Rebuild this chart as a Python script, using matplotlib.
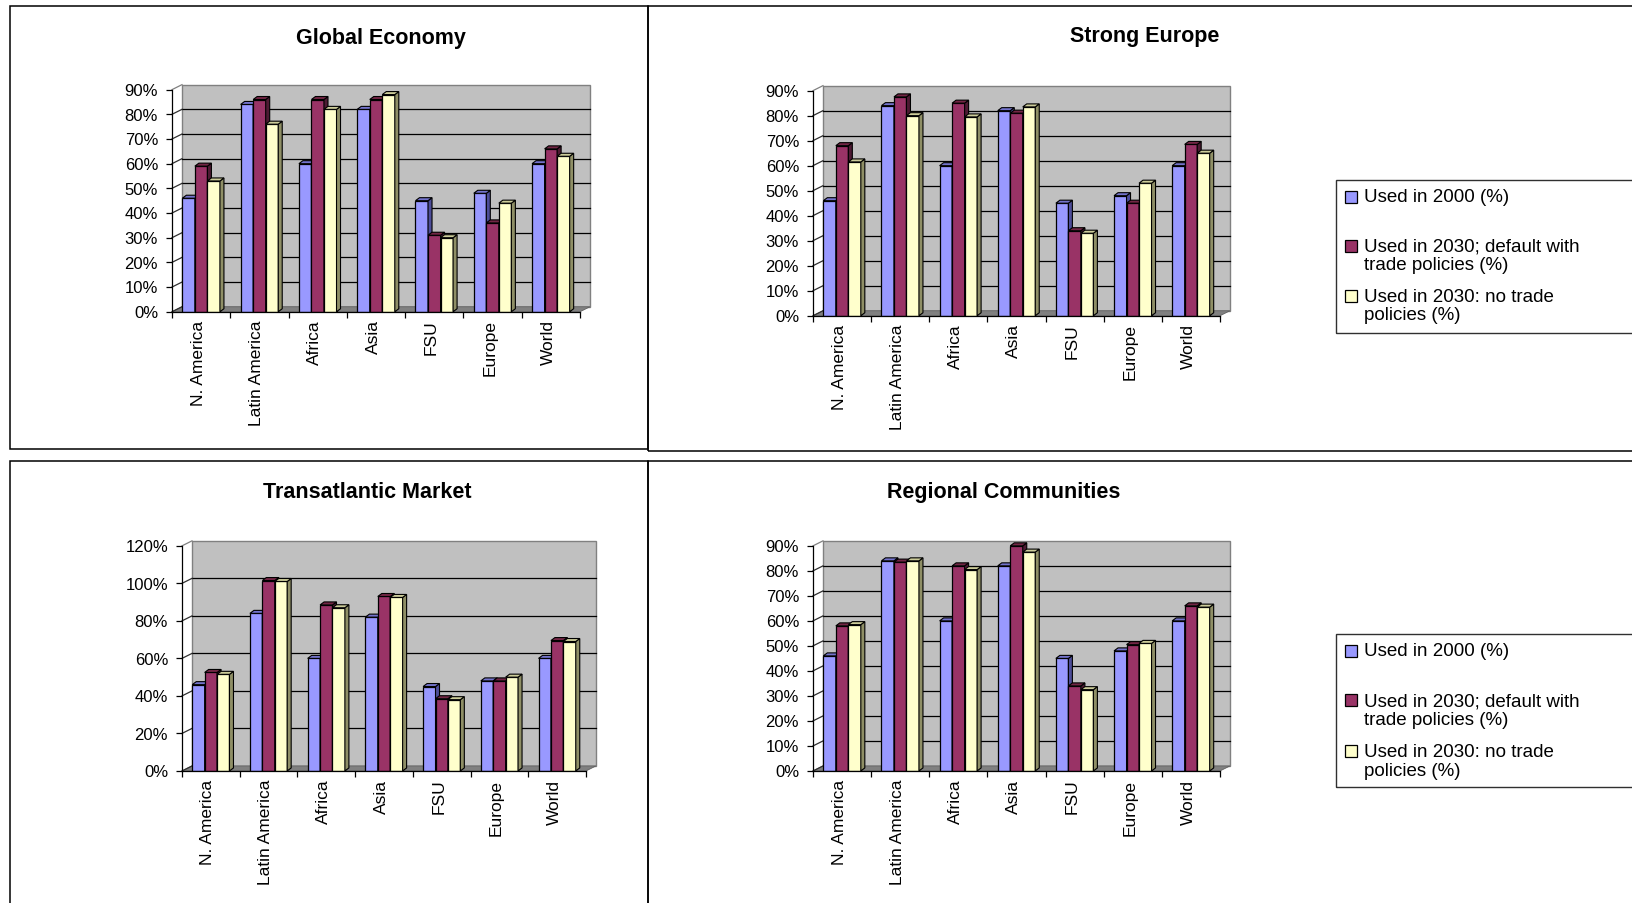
import matplotlib
matplotlib.use("Agg")
import matplotlib.pyplot as plt
from matplotlib.patches import Rectangle, Polygon
from matplotlib.lines import Line2D
from matplotlib.transforms import IdentityTransform
import numpy as np

# ---------------- data ----------------
categories = ["N. America", "Latin America", "Africa", "Asia", "FSU", "Europe", "World"]
series_labels = ["Used in 2000 (%)",
                 "Used in 2030; default with\ntrade policies (%)",
                 "Used in 2030: no trade\npolicies (%)"]

used_2000 = [46, 84, 60, 82, 45, 48, 60]

global_default = [59, 86, 86, 86, 31, 36, 66]
global_notrade = [53, 76, 82, 88, 30, 44, 63]

europe_default = [68, 87.5, 85, 81, 34, 45, 68.5]
europe_notrade = [61.5, 80, 79.5, 83.5, 33, 53, 65]

transat_default = [52.5, 101.5, 88.5, 93, 38.5, 48, 69.5]
transat_notrade = [51.5, 101, 87, 92.5, 38, 50, 69]

regional_default = [58, 83.5, 82, 90, 34, 50.5, 66]
regional_notrade = [58.5, 84, 80.5, 87.5, 32.5, 51, 65.5]

titles = ["Global Economy", "Strong Europe", "Transatlantic Market", "Regional Communities"]
yticks_90 = [0, 10, 20, 30, 40, 50, 60, 70, 80, 90]
yticks_120 = [0, 20, 40, 60, 80, 100, 120]

# ---------------- style ----------------
W, H, DPI = 1632, 903, 100
FACE = ["#9999FF", "#993366", "#FFFFCC"]
SIDE = ["#4D4D99", "#4D1A33", "#8F8F66"]
TOP = ["#7373CC", "#732645", "#CCCC99"]
WALL = "#C0C0C0"
FLOOR = "#808080"
DX, DY = 10, 5      # wall depth in pixels
BX, BY = 4, 3       # bar depth in pixels
BW = 0.215

plt.rcParams["font.family"] = ["Liberation Sans", "DejaVu Sans"]

fig = plt.figure(figsize=(W / DPI, (H + 0.4) / DPI), dpi=DPI)
fig.patch.set_facecolor("white")


def fx(px):
    return px / W


def fy(py):
    return 1 - py / H


def fig_rect(x0, y0, x1, y1, **kw):
    r = Rectangle((fx(x0), fy(y1)), fx(x1) - fx(x0), fy(y0) - fy(y1),
                  transform=fig.transFigure, **kw)
    fig.add_artist(r)
    return r


# panel frames
for (x0, y0, x1, y1) in [(10, 6, 648, 449), (648, 6, 1700, 451),
                         (10, 461, 648, 960), (648, 461, 1700, 960)]:
    fig_rect(x0, y0, x1, y1, fill=False, edgecolor="black", linewidth=1.1)


def draw_panel(front, ymax, yticks, title, title_xy, series, legend_box=None):
    x0, x1, ybot, ytop = front
    n = len(categories)
    ax = fig.add_axes([fx(x0), fy(ybot), fx(x1) - fx(x0), (ybot - ytop) / H])
    ax.set_xlim(-0.5, n - 0.5)
    ax.set_ylim(0, ymax)
    ax.patch.set_visible(False)
    for s in ["top", "right"]:
        ax.spines[s].set_visible(False)
    for s in ["left", "bottom"]:
        ax.spines[s].set_color("black")
        ax.spines[s].set_linewidth(0.9)
        ax.spines[s].set_zorder(10)

    ax.set_yticks(yticks)
    ax.set_yticklabels([f"{t}%" for t in yticks])
    ax.tick_params(axis="y", direction="out", length=4, width=0.9, pad=6,
                   labelsize=12)
    ax.set_xticks(np.arange(-0.5, n, 1.0))
    ax.set_xticklabels([])
    ax.tick_params(axis="x", which="major", direction="out", length=4, width=0.9)
    ax.set_xticks(np.arange(n) - 0.05, minor=True)
    ax.set_xticklabels(categories, minor=True, rotation=90, fontsize=12.5)
    ax.tick_params(axis="x", which="minor", length=0, pad=6)

    P = lambda x, y: ax.transData.transform((x, y))
    off = np.array([DX, DY])
    boff = np.array([BX, BY])
    idt = IdentityTransform()

    def poly(pts, **kw):
        p = Polygon(np.array(pts), closed=True, transform=idt, clip_on=False, **kw)
        ax.add_patch(p)

    # back wall
    poly([P(-0.5, 0) + off, P(n - 0.5, 0) + off, P(n - 0.5, ymax) + off, P(-0.5, ymax) + off],
         facecolor=WALL, edgecolor="#808080", linewidth=1.0, zorder=0.5)
    # floor
    poly([P(-0.5, 0), P(n - 0.5, 0), P(n - 0.5, 0) + off, P(-0.5, 0) + off],
         facecolor=FLOOR, edgecolor="#606060", linewidth=0.6, zorder=0.8)
    # gridlines on back wall and side wall diagonals
    for t in yticks:
        a, b = P(-0.5, t), P(n - 0.5, t)
        if 0 < t < ymax:
            ax.add_line(Line2D([a[0] + DX, b[0] + DX], [a[1] + DY, b[1] + DY],
                               transform=idt, color="black", linewidth=0.9,
                               zorder=0.9, clip_on=False))
        ax.add_line(Line2D([a[0], a[0] + DX], [a[1], a[1] + DY], transform=idt,
                           color="#303030" if t < ymax else "#808080",
                           linewidth=0.9, zorder=0.9, clip_on=False))
    # bars
    xs = np.arange(n)
    for s, vals in enumerate(series):
        xo = xs + (s - 1) * BW
        ax.bar(xo, vals, width=BW, color=FACE[s], edgecolor="black",
               linewidth=0.9, zorder=3 + 2 * s)
        for xc, v in zip(xo, vals):
            xl, xr = xc - BW / 2, xc + BW / 2
            poly([P(xr, 0), P(xr, v), P(xr, v) + boff, P(xr, 0) + boff],
                 facecolor=SIDE[s], edgecolor="black", linewidth=0.8, zorder=4 + 2 * s)
            poly([P(xl, v), P(xr, v), P(xr, v) + boff, P(xl, v) + boff],
                 facecolor=TOP[s], edgecolor="black", linewidth=0.8, zorder=4 + 2 * s)

    fig.text(fx(title_xy[0]), fy(title_xy[1]), title, ha="center", va="center",
             fontsize=15.5, fontweight="bold")

    if legend_box is not None:
        lx, ltop, lbot, entries_y = legend_box
        fig_rect(lx, ltop, 1700, lbot, fill=False, edgecolor="#303030", linewidth=1.0)
        for s, (lab, ey) in enumerate(zip(series_labels, entries_y)):
            fig_rect(lx + 9, ey - 6, lx + 21, ey + 6, facecolor=FACE[s],
                     edgecolor="black", linewidth=0.9)
            nlines = lab.count("\n") + 1
            fig.text(fx(lx + 28), fy(ey + (nlines - 1) * 10.5), lab, ha="left",
                     va="center", fontsize=13.5, linespacing=1.12)
    return ax


draw_panel((172, 580, 312, 90), 90, yticks_90, titles[0], (381, 38),
           [used_2000, global_default, global_notrade])
draw_panel((813, 1220, 316, 91), 90, yticks_90, titles[1], (1145, 36),
           [used_2000, europe_default, europe_notrade],
           legend_box=(1336, 180, 333, [197, 246, 296]))
draw_panel((182, 586, 771, 546), 120, yticks_120, titles[2], (367, 492),
           [used_2000, transat_default, transat_notrade])
draw_panel((813, 1220, 771, 546), 90, yticks_90, titles[3], (1004, 492),
           [used_2000, regional_default, regional_notrade],
           legend_box=(1336, 634, 787, [651, 700, 751]))

fig.savefig("out.png", dpi=DPI)
